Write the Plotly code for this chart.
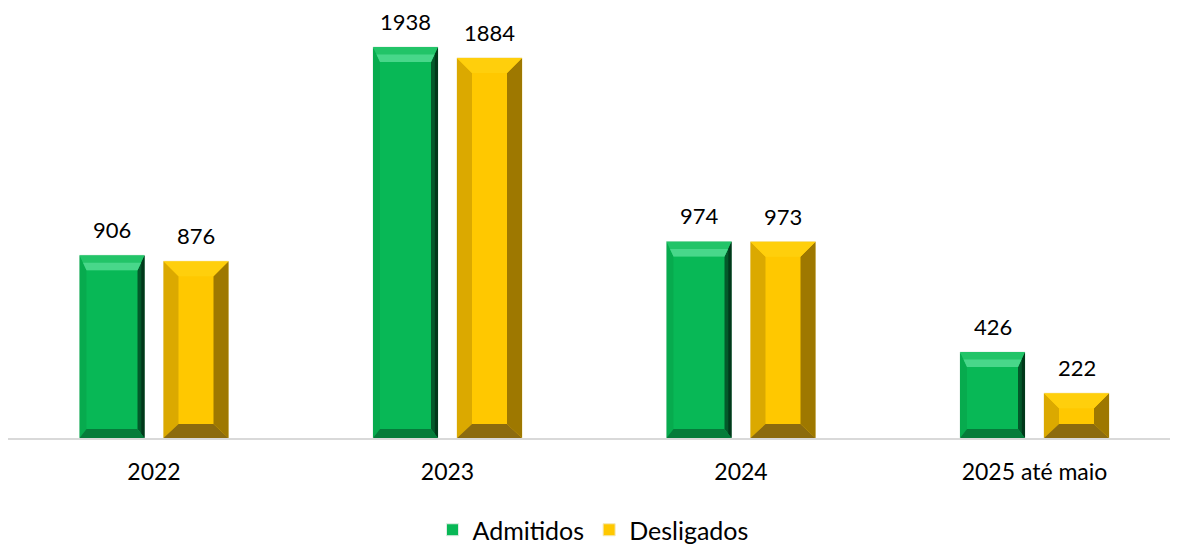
import plotly.graph_objects as go

categories = ["2022", "2023", "2024", "2025 até maio"]
admitidos = [906, 1938, 974, 426]
desligados = [876, 1884, 973, 222]
series_names = ["Admitidos", "Desligados"]

# page has an 8px body margin; the figure is sized to fit the window
W, H = 1170, 537
ML, MR, MT, MB = 0, 0, 2, 107
plot_w = W - ML - MR
plot_h = H - MT - MB
px_x = 293.5                      # pixels per category
x_lo = -146 / px_x                # first category centre 146px from plot left
x_hi = x_lo + plot_w / px_x
px_y = 391 / 1938.0               # pixels per unit
YMAX = plot_h / px_y

bar_w = 65 / px_x
off = 42 / px_x
xs = list(range(len(categories)))

fig = go.Figure()

styles = [
    dict(face="#08b856", top="#22c468", top2="#48d78a", left="#07ab4e", right="#03592a",
         right2="#01381a", bottom="#057c3a", bx=7, bt=15, bb=9),
    dict(face="#ffc800", top="#ffcf0c", top2=None, left="#dba900", right="#9e7800",
         right2=None, bottom="#8c6b0e", bx=15, bt=15, bb=14),
]

for si, (name, vals) in enumerate(zip(series_names, [admitidos, desligados])):
    st = styles[si]
    centers = [x + (-off if si == 0 else off) for x in xs]
    fig.add_trace(go.Bar(
        x=centers, y=vals, width=bar_w, name=name,
        marker=dict(color=st["face"], line=dict(color="#dfece4" if si == 0 else "#f3e7b8", width=1)),
        hoverinfo="skip",
    ))
    polys = {k: ([], []) for k in ["top", "top2", "bottom", "left", "right", "right2"]}
    for c, v in zip(centers, vals):
        x0, x1 = c - bar_w / 2, c + bar_w / 2
        dx = min(st["bx"] / px_x, bar_w / 2)
        dt = st["bt"] / px_y
        db = st["bb"] / px_y
        if dt + db > v:
            s = v / (dt + db)
            dt *= s
            db *= s
        y1 = v
        shapes = {
            "top": [(x0, y1), (x1, y1), (x1 - dx, y1 - dt), (x0 + dx, y1 - dt)],
            "bottom": [(x0, 0), (x1, 0), (x1 - dx, db), (x0 + dx, db)],
            "left": [(x0, 0), (x0, y1), (x0 + dx, y1 - dt), (x0 + dx, db)],
            "right": [(x1, 0), (x1, y1), (x1 - dx, y1 - dt), (x1 - dx, db)],
        }
        if st["top2"]:
            h = 0.5
            shapes["top2"] = [(x0 + dx * h, y1 - dt * h), (x1 - dx * h, y1 - dt * h),
                              (x1 - dx, y1 - dt), (x0 + dx, y1 - dt)]
        if st["right2"]:
            h = 0.45
            shapes["right2"] = [(x1, 0), (x1, y1), (x1 - dx * h, y1 - dt * h), (x1 - dx * h, db * h)]
        for k, pts in shapes.items():
            px_, py_ = polys[k]
            for p in pts + [pts[0]]:
                px_.append(p[0]); py_.append(p[1])
            px_.append(None); py_.append(None)
    for k in ["left", "right", "right2", "bottom", "top", "top2"]:
        if not polys[k][0]:
            continue
        fig.add_trace(go.Scatter(
            x=polys[k][0], y=polys[k][1], mode="lines", fill="toself",
            fillcolor=st[k], line=dict(width=0, color=st[k]),
            showlegend=False, hoverinfo="skip",
        ))
    for c, v in zip(centers, vals):
        fig.add_annotation(x=c, y=v, text=str(v), showarrow=False, yanchor="bottom",
                           yshift=10, font=dict(size=22, color="#000000", family="Lato"))

fig.update_layout(
    width=W, height=H,
    margin=dict(l=ML, r=MR, t=MT, b=MB, autoexpand=False),
    plot_bgcolor="white", paper_bgcolor="white",
    barmode="overlay",
    font=dict(family="Lato", color="#000000"),
    showlegend=True,
    legend=dict(orientation="h", x=0.5, xanchor="center", y=-92 / plot_h, yanchor="middle",
                font=dict(size=25, family="Lato"), itemwidth=30, traceorder="normal"),
    xaxis=dict(range=[x_lo, x_hi], tickvals=xs, ticktext=categories, showgrid=False,
               zeroline=False, showline=True, linecolor="#d9d9d9", linewidth=2,
               ticks="", tickfont=dict(size=23, family="Lato"), ticklabelstandoff=12,
               fixedrange=True, automargin=False),
    yaxis=dict(range=[0, YMAX], visible=False, showgrid=False, zeroline=False, fixedrange=True,
               automargin=False),
)

fig.write_html("out.html")
